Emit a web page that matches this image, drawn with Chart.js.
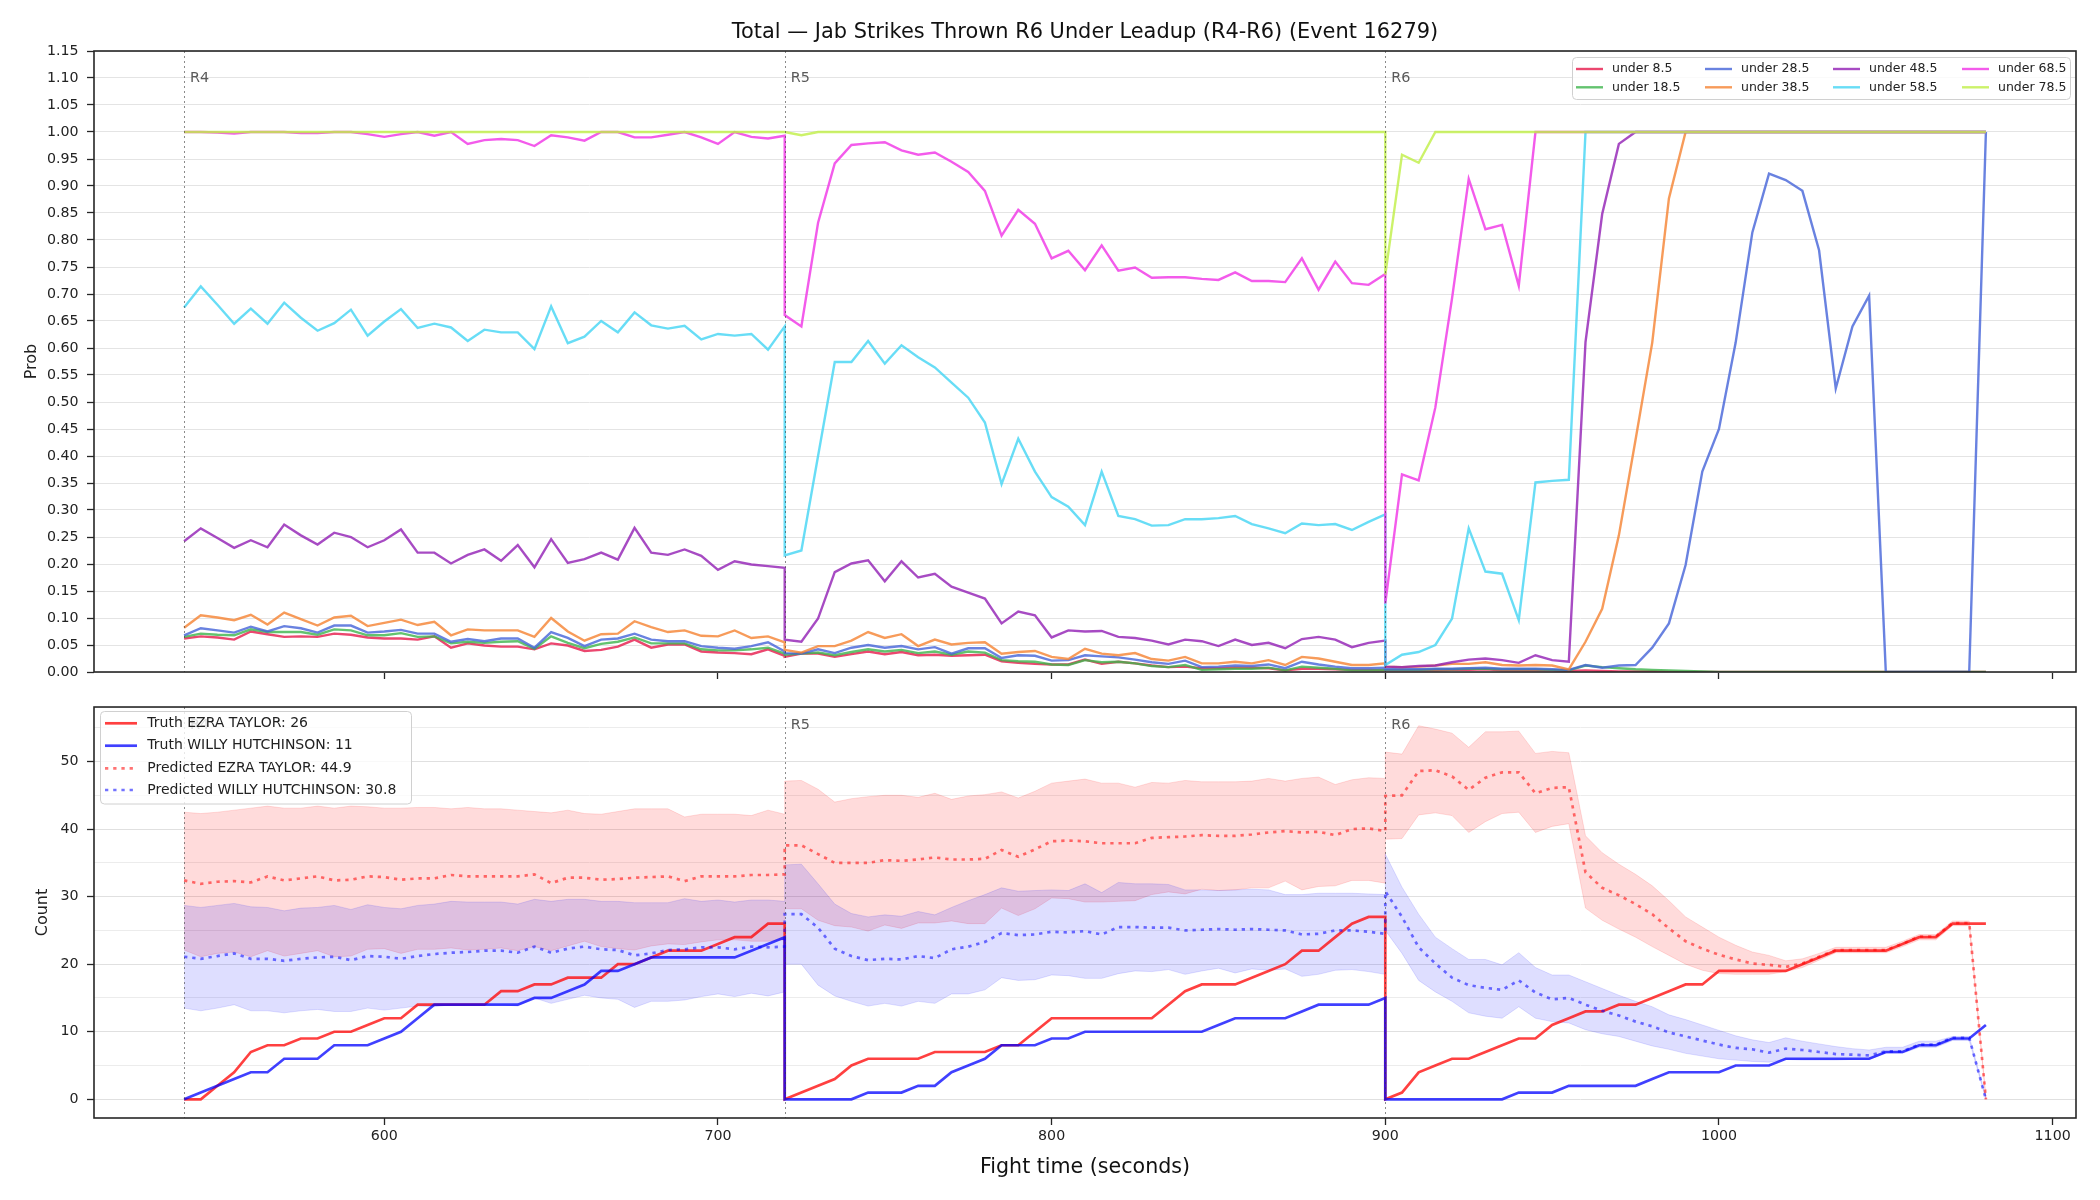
<!DOCTYPE html>
<html>
<head>
<meta charset="utf-8">
<script src="https://cdn.jsdelivr.net/npm/chart.js@4.4.1/dist/chart.umd.min.js"></script>
<style>
html,body{margin:0;padding:0;background:#fff;}
#wrap{position:relative;width:2100px;height:1200px;background:#fff;}
#c1{position:absolute;left:0;top:0;}
#c2{position:absolute;left:0;top:690px;}
</style>
</head>
<body>
<div id="wrap">
<canvas id="c1" width="2100" height="690"></canvas>
<canvas id="c2" width="2100" height="510"></canvas>
</div>
<script>
// ---------------- DATA ----------------
const chartTitle = 'Total \u2014 Jab Strikes Thrown R6 Under Leadup (R4-R6) (Event 16279)';
const roundStarts = [540, 720, 900];
const roundLabels = ['R4', 'R5', 'R6'];
const sampleOffsets = [0,5,10,15,20,25,30,35,40,45,50,55,60,65,70,75,80,85,90,95,100,105,110,115,120,125,130,135,140,145,150,155,160,165,170,175,180];
const xTickValues = [600, 700, 800, 900, 1000, 1100];
const probTickValues = [0,0.05,0.10,0.15,0.20,0.25,0.30,0.35,0.40,0.45,0.50,0.55,0.60,0.65,0.70,0.75,0.80,0.85,0.90,0.95,1.00,1.05,1.10,1.15];
const countTickValues = [0,5,10,15,20,25,30,35,40,45,50,55];

const seriesNames = ['under 8.5','under 18.5','under 28.5','under 38.5','under 48.5','under 58.5','under 68.5','under 78.5'];

const under8_5 = [
  0.062,0.066,0.064,0.060,0.075,0.070,0.065,0.066,0.065,0.071,0.069,0.064,0.062,0.062,0.060,0.066,0.045,0.053,0.049,0.047,0.047,0.042,0.053,0.049,0.039,0.041,0.047,0.060,0.045,0.051,0.051,0.038,0.036,0.035,0.033,0.042,0.030,
  0.028,0.034,0.034,0.028,0.033,0.038,0.033,0.037,0.031,0.032,0.030,0.031,0.032,0.020,0.017,0.015,0.014,0.014,0.023,0.015,0.019,0.016,0.012,0.009,0.010,0.007,0.007,0.008,0.008,0.007,0.003,0.006,0.006,0.005,0.004,0.004,0.003,
  0.003,0.003,0.003,0.003,0.004,0.004,0.005,0.003,0.003,0.003,0.003,0.002,0.003,0.002,0.001,0.001,0.001,0,0,0,0,0,0,0,0,0,0,0,0,0,0,0,0,0,0,0,0
];
const under18_5 = [
  0.065,0.071,0.069,0.068,0.079,0.074,0.074,0.074,0.069,0.079,0.077,0.068,0.068,0.072,0.065,0.066,0.053,0.056,0.054,0.056,0.057,0.043,0.066,0.054,0.044,0.052,0.056,0.064,0.053,0.053,0.053,0.042,0.040,0.040,0.042,0.045,0.034,
  0.032,0.034,0.036,0.031,0.037,0.042,0.038,0.041,0.035,0.038,0.032,0.038,0.036,0.022,0.020,0.019,0.014,0.013,0.022,0.018,0.019,0.016,0.011,0.009,0.013,0.004,0.005,0.006,0.006,0.008,0.003,0.010,0.008,0.006,0.003,0.003,0.004,
  0.004,0.004,0.004,0.005,0.005,0.006,0.006,0.005,0.005,0.005,0.004,0.003,0.012,0.009,0.007,0.005,0.004,0.003,0.002,0.001,0,0,0,0,0,0,0,0,0,0,0,0,0,0,0,0,0
];
const under28_5 = [
  0.068,0.081,0.077,0.073,0.084,0.075,0.085,0.081,0.073,0.086,0.086,0.073,0.075,0.078,0.071,0.071,0.056,0.061,0.057,0.062,0.062,0.045,0.074,0.063,0.048,0.060,0.062,0.071,0.060,0.057,0.057,0.048,0.045,0.043,0.048,0.055,0.038,
  0.035,0.034,0.042,0.035,0.045,0.050,0.045,0.048,0.042,0.046,0.034,0.044,0.044,0.026,0.031,0.030,0.021,0.022,0.031,0.029,0.027,0.023,0.018,0.015,0.021,0.009,0.010,0.012,0.011,0.014,0.007,0.019,0.014,0.010,0.007,0.007,0.008,
  0.005,0.005,0.005,0.006,0.006,0.007,0.008,0.006,0.006,0.006,0.005,0.004,0.013,0.008,0.012,0.013,0.045,0.090,0.198,0.371,0.450,0.610,0.814,0.923,0.911,0.891,0.781,0.525,0.640,0.697,0,0,0,0,0,0,1
];
const under38_5 = [
  0.082,0.105,0.101,0.096,0.106,0.088,0.110,0.098,0.086,0.101,0.104,0.085,0.091,0.097,0.087,0.093,0.068,0.079,0.077,0.077,0.077,0.065,0.100,0.075,0.058,0.070,0.071,0.094,0.083,0.074,0.077,0.067,0.066,0.077,0.063,0.066,0.055,
  0.041,0.036,0.048,0.048,0.058,0.074,0.063,0.070,0.048,0.060,0.051,0.054,0.055,0.034,0.037,0.039,0.028,0.024,0.043,0.034,0.031,0.035,0.024,0.021,0.028,0.016,0.016,0.019,0.016,0.022,0.013,0.028,0.025,0.019,0.013,0.013,0.016,
  0.010,0.009,0.010,0.012,0.015,0.015,0.018,0.013,0.012,0.013,0.012,0.005,0.056,0.117,0.253,0.430,0.610,0.877,1,1,1,1,1,1,1,1,1,1,1,1,1,1,1,1,1,1,1
];
const under48_5 = [
  0.242,0.266,0.248,0.230,0.244,0.231,0.273,0.253,0.236,0.258,0.250,0.231,0.244,0.264,0.221,0.221,0.201,0.217,0.227,0.206,0.235,0.194,0.246,0.202,0.209,0.221,0.208,0.267,0.221,0.217,0.227,0.215,0.189,0.205,0.199,0.196,0.193,
  0.060,0.056,0.099,0.185,0.201,0.207,0.168,0.205,0.175,0.182,0.158,0.147,0.136,0.090,0.112,0.105,0.064,0.077,0.075,0.076,0.065,0.063,0.058,0.051,0.060,0.057,0.048,0.060,0.050,0.054,0.044,0.061,0.065,0.060,0.046,0.054,0.058,
  0.010,0.009,0.011,0.012,0.018,0.023,0.025,0.022,0.017,0.031,0.022,0.019,0.611,0.848,0.978,1,1,1,1,1,1,1,1,1,1,1,1,1,1,1,1,1,1,1,1,1,1
];
const under58_5 = [
  0.675,0.714,0.680,0.645,0.673,0.645,0.684,0.656,0.632,0.646,0.671,0.623,0.649,0.672,0.637,0.645,0.638,0.613,0.634,0.629,0.629,0.598,0.677,0.609,0.621,0.650,0.629,0.666,0.642,0.636,0.641,0.616,0.626,0.623,0.626,0.597,0.640,
  0.216,0.225,0.400,0.574,0.574,0.613,0.571,0.605,0.583,0.564,0.536,0.508,0.462,0.348,0.432,0.371,0.324,0.306,0.272,0.371,0.289,0.283,0.271,0.272,0.283,0.283,0.285,0.289,0.274,0.266,0.257,0.275,0.272,0.274,0.263,0.278,0.292,
  0.013,0.032,0.037,0.050,0.099,0.266,0.186,0.182,0.096,0.351,0.354,0.356,1,1,1,1,1,1,1,1,1,1,1,1,1,1,1,1,1,1,1,1,1,1,1,1,1
];
const under68_5 = [
  1.000,1.000,0.999,0.997,1.000,1.000,1.000,0.998,0.998,1.000,1.000,0.996,0.991,0.996,1.000,0.993,1.000,0.978,0.985,0.987,0.985,0.974,0.994,0.990,0.984,1.000,1.000,0.990,0.990,0.995,1.000,0.990,0.978,1.000,0.991,0.988,0.993,
  0.661,0.640,0.832,0.942,0.976,0.979,0.981,0.966,0.958,0.962,0.945,0.926,0.891,0.808,0.856,0.830,0.766,0.780,0.744,0.790,0.743,0.749,0.730,0.731,0.731,0.728,0.726,0.740,0.724,0.724,0.722,0.766,0.708,0.760,0.720,0.717,0.737,
  0.127,0.366,0.355,0.490,0.692,0.913,0.820,0.828,0.715,1,1,1,1,1,1,1,1,1,1,1,1,1,1,1,1,1,1,1,1,1,1,1,1,1,1,1,1
];
const under78_5 = [
  1,1,1,1,1,1,1,1,1,1,1,1,1,1,1,1,1,1,1,1,1,1,1,1,1,1,1,1,1,1,1,1,1,1,1,1,1,
  1,0.994,1,1,1,1,1,1,1,1,1,1,1,1,1,1,1,1,1,1,1,1,1,1,1,1,1,1,1,1,1,1,1,1,1,1,1,
  0.736,0.958,0.943,1,1,1,1,1,1,1,1,1,1,1,1,1,1,1,1,1,1,1,1,1,1,1,1,1,1,1,1,1,1,1,1,1,1
];

const fighterNames = ['EZRA TAYLOR', 'WILLY HUTCHINSON'];
const truthFinal = [26, 11];
const predictedShown = [44.9, 30.8];

const truthEzra = [
  0,0,2,4,7,8,8,9,9,10,10,11,12,12,14,14,14,14,14,16,16,17,17,18,18,18,20,20,21,22,22,22,23,24,24,26,26,
  0,1,2,3,5,6,6,6,6,7,7,7,7,8,8,10,12,12,12,12,12,12,12,14,16,17,17,17,18,19,20,22,22,24,26,27,27,
  0,1,4,5,6,6,7,8,9,9,11,12,13,13,14,14,15,16,17,17,19,19,19,19,19,20,21,22,22,22,22,23,24,24,26,26,26
];
const truthWilly = [
  0,1,2,3,4,4,6,6,6,8,8,8,9,10,12,14,14,14,14,14,14,15,15,16,17,19,19,20,21,21,21,21,21,21,22,23,24,
  0,0,0,0,0,1,1,1,2,2,4,5,6,8,8,8,9,9,10,10,10,10,10,10,10,10,11,12,12,12,12,13,14,14,14,14,15,
  0,0,0,0,0,0,0,0,1,1,1,2,2,2,2,2,3,4,4,4,4,5,5,5,6,6,6,6,6,6,7,7,8,8,9,9,11
];
const predEzra = [
  32.4,31.9,32.2,32.3,32.1,33.0,32.4,32.7,33.0,32.4,32.5,33.0,32.9,32.5,32.7,32.7,33.2,33.0,33.0,33.0,33.0,33.3,32.0,32.8,32.8,32.5,32.6,32.8,32.9,33.0,32.3,33.0,33.0,33.0,33.2,33.2,33.3,
  37.6,37.6,36.3,35.0,35.0,35.0,35.4,35.3,35.5,35.8,35.5,35.5,35.6,36.9,35.9,37.0,38.2,38.3,38.2,37.9,37.9,37.9,38.7,38.8,38.9,39.1,39.0,39.0,39.2,39.5,39.7,39.5,39.6,39.1,40.0,40.1,39.7,
  44.9,45.0,48.6,48.7,47.8,45.8,47.6,48.4,48.4,45.3,46.1,46.2,33.6,31.3,30.2,28.9,27.4,25.3,23.4,22.3,21.4,20.7,20.1,19.9,19.6,20.1,21.1,22.1,22.1,22.1,22.1,23.0,24.1,24.1,26.1,26.1,0
];
const predWilly = [
  21.1,20.8,21.2,21.6,20.8,20.8,20.5,20.8,21.0,21.1,20.6,21.2,21.1,20.8,21.2,21.5,21.7,21.8,22.0,22.0,21.7,22.6,21.7,22.3,22.6,22.2,22.1,21.3,21.6,22.1,22.2,22.5,22.5,22.2,22.6,22.5,22.6,
  27.4,27.4,25.4,22.3,21.2,20.6,20.8,20.7,21.2,20.9,22.2,22.6,23.3,24.6,24.3,24.4,24.8,24.7,24.9,24.4,25.5,25.5,25.4,25.4,25.0,25.1,25.2,25.1,25.2,25.1,25.0,24.4,24.5,25.0,25.0,24.8,24.5,
  30.8,27.0,22.5,20.1,18.0,16.9,16.5,16.2,17.6,15.8,14.8,15.0,14.0,13.1,12.4,11.5,10.8,9.9,9.3,8.7,8.1,7.6,7.4,6.9,7.5,7.3,7.0,6.7,6.6,6.5,7.1,7.1,8.1,8.1,9.1,9.1,0
];
const bandEzraHi = [
  42.5,42.3,42.5,42.8,43.1,43.4,43.1,43.1,43.4,43.1,43.4,43.3,43.1,43.1,43.2,43.2,43.0,43.2,43.0,43.0,42.8,42.6,42.4,42.8,42.3,42.2,42.6,43.0,43.0,43.0,41.8,42.2,42.2,42.2,42.0,42.8,42.2,
  47.1,47.2,45.9,44.0,44.5,44.8,45.0,45.0,44.7,45.3,44.4,44.9,45.1,45.5,44.6,45.6,46.8,47.1,47.4,46.8,46.8,46.2,46.9,46.8,47.2,47.0,47.0,47.0,47.1,47.5,47.1,47.5,47.7,46.6,47.3,47.6,47.5,
  51.4,51.1,55.3,54.8,54.2,52.1,54.4,54.4,54.5,51.2,51.5,51.3,39.0,36.5,34.8,33.3,31.6,29.4,27.0,25.5,24.0,22.8,21.8,21.3,20.5,20.8,21.6,22.5,22.5,22.5,22.5,23.4,24.4,24.4,26.4,26.4,0.3
];
const bandEzraLo = [
  22.1,21.1,21.6,21.8,21.1,22.0,21.2,21.6,22.0,21.1,21.2,22.2,22.3,21.6,22.2,22.2,22.4,22.1,22.2,22.4,22.0,22.6,22.0,22.7,23.4,22.6,22.3,22.1,22.7,23.0,22.9,23.3,23.6,23.6,23.4,23.4,23.6,
  28.2,28.2,26.5,25.7,25.5,24.9,25.8,25.3,26.1,26.1,26.4,26.0,26.0,28.3,27.2,28.2,29.8,29.7,29.2,29.2,29.3,29.4,30.3,30.7,30.4,31.1,30.9,31.0,31.3,31.3,32.3,31.0,31.5,31.6,32.4,32.4,32.0,
  38.5,38.6,42.1,42.4,42.0,39.5,41.1,42.3,42.5,39.5,40.4,40.8,28.3,26.5,25.2,24.0,22.6,21.3,20.0,19.1,18.6,18.5,18.5,18.5,18.9,19.5,20.6,21.7,21.7,21.7,21.7,22.6,23.6,23.6,25.7,25.7,0
];
const bandWillyHi = [
  28.7,28.4,28.7,29.0,28.5,28.4,27.9,28.3,28.4,28.7,28.1,28.8,28.4,28.2,28.7,28.9,29.3,29.2,29.2,29.2,28.9,29.6,29.3,29.6,29.6,29.3,29.3,29.1,29.1,29.1,29.7,29.3,29.5,29.2,29.5,29.5,29.3,
  34.7,34.8,31.9,28.9,27.5,27.0,27.3,27.1,27.8,27.3,28.4,29.4,30.3,31.3,30.8,30.9,31.0,30.9,31.9,30.6,32.1,31.9,31.9,31.8,31.0,31.0,30.9,31.0,31.1,31.0,30.3,30.3,30.5,30.5,30.5,30.4,30.3,
  36.3,31.4,27.4,24.0,22.3,20.7,20.7,19.9,21.7,19.5,18.4,18.4,17.4,16.4,15.4,14.5,13.7,12.5,11.8,11.0,10.2,9.4,8.8,8.4,9.1,8.6,8.2,7.8,7.5,7.3,7.7,7.7,8.6,8.6,9.3,9.3,0.3
];
const bandWillyLo = [
  13.5,13.1,13.5,14.0,13.1,13.1,12.8,13.1,13.3,13.0,13.0,13.5,13.2,13.5,13.8,13.7,14.0,14.0,14.0,14.0,13.8,15.0,14.2,14.8,15.4,15.0,14.8,13.6,14.5,14.5,14.7,15.2,15.6,15.2,15.7,15.3,15.9,
  20.0,20.0,16.9,15.3,14.5,13.8,14.2,13.8,14.5,14.2,15.6,15.6,16.2,18.0,17.6,17.7,18.4,18.3,17.9,17.9,18.6,19.0,18.9,19.2,18.5,19.0,19.4,18.7,19.3,19.1,19.3,18.2,18.5,19.1,19.2,18.9,18.5,
  25.0,21.6,17.6,15.9,14.5,12.8,12.3,12.0,13.7,12.0,11.5,11.3,10.3,9.7,9.3,8.6,7.9,7.4,6.8,6.4,6.0,5.8,5.6,5.5,5.9,5.8,5.8,5.8,5.9,5.9,6.8,6.8,7.7,7.7,8.7,8.7,0
];

// ---------------- STYLE ----------------
const FONT = "'DejaVu Sans', sans-serif";
const TICK_SIZE = 14.2;
Chart.defaults.font.family = FONT;
Chart.defaults.color = '#222';
Chart.defaults.animation = false;

const palette = ['#e6194B','#3cb44b','#4363d8','#f58231','#911eb4','#42d4f4','#f032e6','#bfef45'];
function rgba(hex, a) {
  const n = parseInt(hex.slice(1), 16);
  return `rgba(${(n>>16)&255},${(n>>8)&255},${n&255},${a})`;
}
const times = roundStarts.flatMap(r => sampleOffsets.map(o => r + o));
const toXY = arr => times.map((t, i) => ({x: t, y: arr[i]}));

const probSeries = [under8_5, under18_5, under28_5, under38_5, under48_5, under58_5, under68_5, under78_5];
const lineAlpha = 0.8;

function drawRoundLines(chart) {
  const {ctx, chartArea: a, scales: {x}} = chart;
  ctx.save();
  ctx.setLineDash([2, 3]);
  ctx.lineWidth = 1;
  ctx.strokeStyle = 'rgba(60,60,60,0.6)';
  roundStarts.forEach(t => {
    const px = Math.round(x.getPixelForValue(t)) + 0.5;
    ctx.beginPath(); ctx.moveTo(px, a.top); ctx.lineTo(px, a.bottom); ctx.stroke();
  });
  ctx.restore();
}
function drawRoundLabels(chart) {
  const {ctx, chartArea: a, scales: {x}} = chart;
  ctx.save();
  ctx.fillStyle = '#5a5a5a';
  ctx.font = `14.4px ${FONT}`;
  ctx.textAlign = 'left';
  ctx.textBaseline = 'middle';
  const y = a.top + 0.0435 * (a.bottom - a.top);
  roundStarts.forEach((t, i) => {
    ctx.fillText(roundLabels[i], x.getPixelForValue(t) + 6, y);
  });
  ctx.restore();
}
function drawSpines(chart) {
  const {ctx, chartArea: a} = chart;
  ctx.save();
  ctx.strokeStyle = '#262626';
  ctx.lineWidth = 1.6;
  ctx.strokeRect(a.left, a.top, a.right - a.left, a.bottom - a.top);
  ctx.restore();
}
function roundRect(ctx, x, y, w, h, r) {
  ctx.beginPath();
  ctx.moveTo(x + r, y);
  ctx.lineTo(x + w - r, y); ctx.quadraticCurveTo(x + w, y, x + w, y + r);
  ctx.lineTo(x + w, y + h - r); ctx.quadraticCurveTo(x + w, y + h, x + w - r, y + h);
  ctx.lineTo(x + r, y + h); ctx.quadraticCurveTo(x, y + h, x, y + h - r);
  ctx.lineTo(x, y + r); ctx.quadraticCurveTo(x, y, x + r, y);
  ctx.closePath();
}

const topDecor = {
  id: 'topDecor',
  afterDatasetsDraw(chart) {
    const {ctx, chartArea: a} = chart;
    drawRoundLines(chart);
    drawSpines(chart);
    drawRoundLabels(chart);
    // title
    ctx.save();
    ctx.fillStyle = '#111';
    ctx.font = `20.9px ${FONT}`;
    ctx.textAlign = 'center';
    ctx.textBaseline = 'alphabetic';
    ctx.fillText(chartTitle, (a.left + a.right) / 2, 37.5);
    ctx.restore();
    // legend (4 columns x 2 rows, column-major)
    ctx.save();
    ctx.fillStyle = 'rgba(255,255,255,0.8)';
    ctx.strokeStyle = '#d0d0d0';
    ctx.lineWidth = 1;
    roundRect(ctx, 1572.5, 57.5, 498, 42, 4);
    ctx.fill(); ctx.stroke();
    const colX = [1576, 1705, 1833, 1962];
    const rowY = [69, 87.3];
    ctx.font = `12.5px ${FONT}`;
    ctx.textBaseline = 'middle';
    ctx.textAlign = 'left';
    seriesNames.forEach((name, k) => {
      const c = Math.floor(k / 2), r = k % 2;
      ctx.strokeStyle = rgba(palette[k], lineAlpha);
      ctx.lineWidth = 2.4;
      ctx.beginPath(); ctx.moveTo(colX[c], rowY[r]); ctx.lineTo(colX[c] + 27, rowY[r]); ctx.stroke();
      ctx.fillStyle = '#222';
      ctx.fillText(name, colX[c] + 36, rowY[r]);
    });
    ctx.restore();
  }
};

new Chart(document.getElementById('c1'), {
  type: 'line',
  data: {
    datasets: seriesNames.map((name, k) => ({
      label: name,
      data: toXY(probSeries[k]),
      borderColor: rgba(palette[k], lineAlpha),
      backgroundColor: rgba(palette[k], lineAlpha),
      borderWidth: 2.4,
      pointRadius: 0,
      tension: 0,
      fill: false,
      order: seriesNames.length - 1 - k
    }))
  },
  options: {
    responsive: false,
    animation: false,
    events: [],
    layout: {padding: {top: 51, right: 24, bottom: 0, left: 0}},
    plugins: {legend: {display: false}, tooltip: {enabled: false}, title: {display: false}},
    scales: {
      x: {
        type: 'linear', min: 513, max: 1107,
        afterBuildTicks: s => { s.ticks = xTickValues.map(v => ({value: v})); },
        afterFit: s => { s.height = 18; },
        grid: {drawOnChartArea: false, drawTicks: true, tickLength: 7, tickColor: '#262626', tickWidth: 1.3},
        border: {display: false},
        ticks: {display: false}
      },
      y: {
        type: 'linear', min: 0, max: 1.15,
        afterBuildTicks: s => { s.ticks = probTickValues.map(v => ({value: v})); },
        afterFit: s => { s.width = 94; },
        grid: {color: '#e4e4e4', lineWidth: 1, tickLength: 7, tickColor: '#262626', tickWidth: 1.3},
        border: {display: false},
        ticks: {autoSkip: false, padding: 8.5, color: '#222', font: {size: TICK_SIZE, family: FONT}, callback: v => Number(v).toFixed(2)},
        title: {display: true, text: 'Prob', color: '#222', font: {size: 16, family: FONT}, padding: {top: 22, bottom: 0}}
      }
    }
  },
  plugins: [topDecor]
});

// ---------------- BOTTOM CHART ----------------
const truthColors = ['rgba(255,0,0,0.75)', 'rgba(0,0,255,0.75)'];
const predColors = ['rgba(255,0,0,0.55)', 'rgba(0,0,255,0.55)'];
const bandFill = ['rgba(255,0,0,0.14)', 'rgba(0,0,255,0.13)'];
const bandEdge = ['rgba(255,0,0,0.13)', 'rgba(0,0,255,0.12)'];
const predDash = [3.3, 4.9];

const bottomDecor = {
  id: 'bottomDecor',
  afterDatasetsDraw(chart) {
    const {ctx} = chart;
    drawRoundLines(chart);
    drawSpines(chart);
    drawRoundLabels(chart);
    ctx.save();
    ctx.fillStyle = 'rgba(255,255,255,0.8)';
    ctx.strokeStyle = '#d0d0d0';
    ctx.lineWidth = 1;
    roundRect(ctx, 100.5, 21.5, 311, 92.5, 4);
    ctx.fill(); ctx.stroke();
    const rows = [33.3, 55.7, 78.3, 100];
    const entries = [
      {text: `Truth ${fighterNames[0]}: ${truthFinal[0]}`, color: truthColors[0], dash: []},
      {text: `Truth ${fighterNames[1]}: ${truthFinal[1]}`, color: truthColors[1], dash: []},
      {text: `Predicted ${fighterNames[0]}: ${predictedShown[0]}`, color: predColors[0], dash: predDash},
      {text: `Predicted ${fighterNames[1]}: ${predictedShown[1]}`, color: predColors[1], dash: predDash}
    ];
    ctx.font = `14px ${FONT}`;
    ctx.textBaseline = 'middle';
    ctx.textAlign = 'left';
    entries.forEach((e, i) => {
      ctx.strokeStyle = e.color;
      ctx.lineWidth = 2.7;
      ctx.setLineDash(e.dash);
      ctx.beginPath(); ctx.moveTo(105, rows[i]); ctx.lineTo(137, rows[i]); ctx.stroke();
      ctx.setLineDash([]);
      ctx.fillStyle = '#222';
      ctx.fillText(e.text, 147.3, rows[i]);
    });
    ctx.restore();
  }
};

const common = {pointRadius: 0, tension: 0};
new Chart(document.getElementById('c2'), {
  type: 'line',
  data: {
    datasets: [
      {label: 'bandEzraHi', data: toXY(bandEzraHi), borderColor: bandEdge[0], borderWidth: 1, fill: false, order: 9, ...common},
      {label: 'bandEzraLo', data: toXY(bandEzraLo), borderColor: bandEdge[0], borderWidth: 1, fill: '-1', backgroundColor: bandFill[0], order: 8, ...common},
      {label: 'bandWillyHi', data: toXY(bandWillyHi), borderColor: bandEdge[1], borderWidth: 1, fill: false, order: 7, ...common},
      {label: 'bandWillyLo', data: toXY(bandWillyLo), borderColor: bandEdge[1], borderWidth: 1, fill: '-1', backgroundColor: bandFill[1], order: 6, ...common},
      {label: 'Truth EZRA TAYLOR', data: toXY(truthEzra), borderColor: truthColors[0], borderWidth: 2.7, fill: false, order: 5, ...common},
      {label: 'Truth WILLY HUTCHINSON', data: toXY(truthWilly), borderColor: truthColors[1], borderWidth: 2.7, fill: false, order: 4, ...common},
      {label: 'Predicted EZRA TAYLOR', data: toXY(predEzra), borderColor: predColors[0], borderWidth: 2.7, borderDash: predDash, fill: false, order: 3, ...common},
      {label: 'Predicted WILLY HUTCHINSON', data: toXY(predWilly), borderColor: predColors[1], borderWidth: 2.7, borderDash: predDash, fill: false, order: 2, ...common}
    ]
  },
  options: {
    responsive: false,
    animation: false,
    events: [],
    layout: {padding: {top: 14, right: 24, bottom: 0, left: 0}},
    plugins: {legend: {display: false}, tooltip: {enabled: false}, title: {display: false}, filler: {propagate: false}},
    scales: {
      x: {
        type: 'linear', min: 513, max: 1107,
        afterBuildTicks: s => { s.ticks = xTickValues.map(v => ({value: v})); },
        afterFit: s => { s.height = 82; },
        grid: {drawOnChartArea: false, drawTicks: true, tickLength: 7, tickColor: '#262626', tickWidth: 1.3},
        border: {display: false},
        ticks: {autoSkip: false, maxRotation: 0, padding: 3, color: '#222', font: {size: TICK_SIZE, family: FONT}, callback: v => String(v)},
        title: {display: true, text: 'Fight time (seconds)', color: '#111', font: {size: 20.6, family: FONT}, padding: {top: 0, bottom: 20}}
      },
      y: {
        type: 'linear', min: -2.77, max: 58.07,
        afterBuildTicks: s => { s.ticks = countTickValues.map(v => ({value: v})); },
        afterFit: s => { s.width = 94; },
        grid: {
          color: c => (c.tick && c.tick.value % 10 === 0) ? '#e0e0e0' : '#ececec',
          lineWidth: 1, tickLength: 7,
          tickColor: c => (c.tick && c.tick.value % 10 === 0) ? '#262626' : 'rgba(0,0,0,0)',
          tickWidth: 1.3
        },
        border: {display: false},
        ticks: {autoSkip: false, padding: 8.5, color: '#222', font: {size: TICK_SIZE, family: FONT}, callback: v => (v % 10 === 0 ? String(v) : '')},
        title: {display: true, text: 'Count', color: '#222', font: {size: 16, family: FONT}, padding: {top: 33, bottom: 0}}
      }
    }
  },
  plugins: [bottomDecor]
});
</script>
</body>
</html>
